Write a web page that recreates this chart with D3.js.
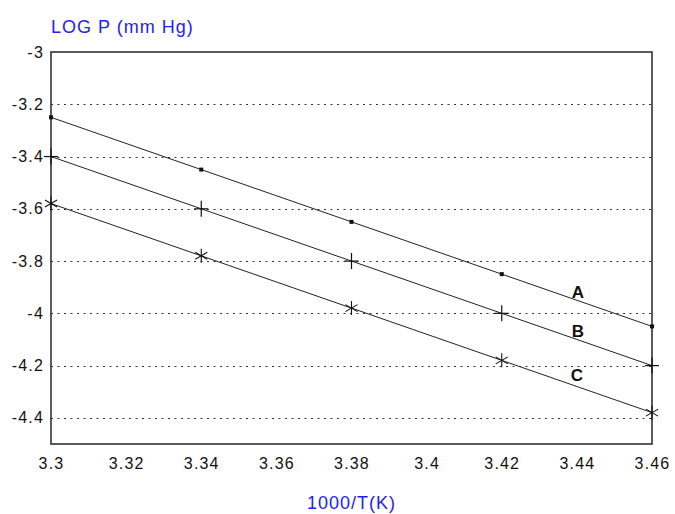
<!DOCTYPE html>
<meta charset="utf-8">
<style>
  body { margin: 0; background: #fff; }
  .tick text { font-family: "Liberation Sans", Arial, sans-serif; font-size: 16px; letter-spacing: 1.2px; fill: #111; }
  .axis path, .axis line { stroke: none; }
  .grid line { stroke: #333; stroke-width: 1; stroke-dasharray: 2,4.5; }
  .series { fill: none; stroke: #222; stroke-width: 1; }
  .axlabel { font-family: "Liberation Sans", Arial, sans-serif; font-size: 18px; letter-spacing: 1px; fill: #2222ee; }
  .seriesname { font-family: "Liberation Sans", Arial, sans-serif; font-size: 17px; font-weight: bold; fill: #111; }
</style>
<body>
<svg></svg>
<script src="https://d3js.org/d3.v7.min.js"></script>
<script>
  var xValues = [3.3, 3.34, 3.38, 3.42, 3.46];
  var seriesA = [-3.25, -3.45, -3.65, -3.85, -4.05];
  var seriesB = [-3.4, -3.6, -3.8, -4.0, -4.2];
  var seriesC = [-3.58, -3.78, -3.98, -4.18, -4.38];
  var seriesNames = ['A', 'B', 'C'];
  var xTicks = [3.3, 3.32, 3.34, 3.36, 3.38, 3.4, 3.42, 3.44, 3.46];
  var yTicks = [-3, -3.2, -3.4, -3.6, -3.8, -4, -4.2, -4.4];
  var gridTicks = [-3.2, -3.4, -3.6, -3.8, -4, -4.2, -4.4];
  // label anchor (x value, y value) for each series name
  var labelX = [3.4403, 3.4403, 3.4400];
  var labelY = [-3.941, -4.091, -4.259];

  var W = 675, H = 514;
  var mLeft = 51, mRight = 652, mTop = 52, mBottom = 444;

  var svg = d3.select('svg').attr('width', W).attr('height', H);

  var x = d3.scaleLinear().domain([3.3, 3.46]).range([mLeft, mRight]);
  var y = d3.scaleLinear().domain([-4.5, -3]).range([mBottom, mTop]);

  // dotted grid
  svg.append('g').attr('class', 'grid')
    .selectAll('line').data(gridTicks).enter().append('line')
    .attr('x1', mLeft).attr('x2', mRight)
    .attr('y1', function(d) { return Math.round(y(d)) + 0.5; })
    .attr('y2', function(d) { return Math.round(y(d)) + 0.5; });

  // frame
  svg.append('rect')
    .attr('x', mLeft).attr('y', mTop)
    .attr('width', mRight - mLeft).attr('height', mBottom - mTop)
    .attr('fill', 'none').attr('stroke', '#333').attr('stroke-width', 1.6);

  var fmt = function(d) { return String(+d.toFixed(2)); };

  svg.append('g').attr('class', 'x axis')
    .attr('transform', 'translate(0,' + mBottom + ')')
    .call(d3.axisBottom(x).tickValues(xTicks).tickSize(0).tickPadding(14).tickFormat(fmt));

  svg.append('g').attr('class', 'y axis')
    .attr('transform', 'translate(' + (mLeft - 7) + ',0)')
    .call(d3.axisLeft(y).tickValues(yTicks).tickSize(0).tickPadding(0).tickFormat(fmt));

  var line = d3.line()
    .x(function(d, i) { return x(xValues[i]); })
    .y(function(d) { return y(d); });

  var allSeries = [seriesA, seriesB, seriesC];
  allSeries.forEach(function(s) {
    svg.append('path').attr('class', 'series').attr('d', line(s));
  });

  // markers
  svg.append('g').selectAll('rect').data(seriesA).enter().append('rect')
    .attr('x', function(d, i) { return x(xValues[i]) - 2; })
    .attr('y', function(d) { return y(d) - 2; })
    .attr('width', 4).attr('height', 4).attr('fill', '#111');

  var plus = svg.append('g').attr('stroke', '#111').attr('stroke-width', 1.2);
  seriesB.forEach(function(d, i) {
    var cx = x(xValues[i]), cy = y(d);
    plus.append('line').attr('x1', cx - 7).attr('x2', cx + 7).attr('y1', cy).attr('y2', cy);
    plus.append('line').attr('x1', cx).attr('x2', cx).attr('y1', cy - 8).attr('y2', cy + 8);
  });

  var star = svg.append('g').attr('stroke', '#111').attr('stroke-width', 1.1);
  seriesC.forEach(function(d, i) {
    var cx = x(xValues[i]), cy = y(d), r = 7;
    [0, 60, 120].forEach(function(a) {
      var rad = (a + 90) * Math.PI / 180;
      star.append('line')
        .attr('x1', cx - r * Math.cos(rad)).attr('y1', cy - r * Math.sin(rad))
        .attr('x2', cx + r * Math.cos(rad)).attr('y2', cy + r * Math.sin(rad));
    });
  });

  // series names
  seriesNames.forEach(function(n, i) {
    svg.append('text').attr('class', 'seriesname')
      .attr('x', x(labelX[i])).attr('y', y(labelY[i]))
      .attr('text-anchor', 'middle')
      .text(n);
  });

  // axis titles
  svg.append('text').attr('class', 'axlabel')
    .attr('x', mLeft).attr('y', 33)
    .text('LOG P (mm Hg)');

  svg.append('text').attr('class', 'axlabel')
    .attr('x', (mLeft + mRight) / 2).attr('y', 509)
    .attr('text-anchor', 'middle')
    .text('1000/T(K)');
</script>
